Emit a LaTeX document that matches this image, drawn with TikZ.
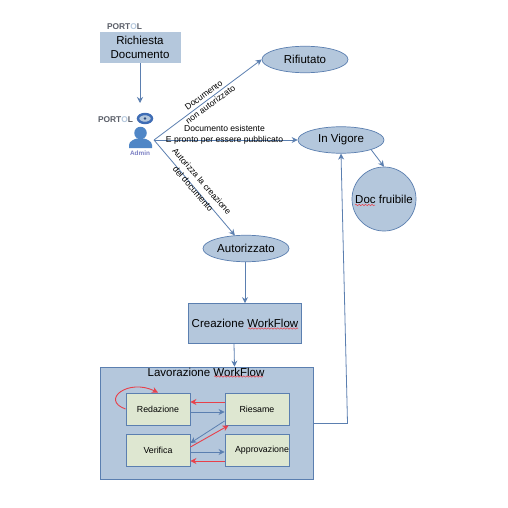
\documentclass[tikz,border=0pt]{standalone}
\usepackage{fontspec}
\setmainfont{Liberation Sans}
\usepackage{xcolor}
\usetikzlibrary{arrows.meta, calc, positioning, shapes.geometric, decorations.pathmorphing}
\definecolor{paleblue}{HTML}{B4C7DC}
\definecolor{edgeblue}{HTML}{5B7FB0}
\definecolor{paleolive}{HTML}{DEE7D1}
\definecolor{redline}{HTML}{E8404A}
\definecolor{logogray}{HTML}{5A5E68}
\definecolor{logoblue}{HTML}{3F6DB5}
\definecolor{userblue}{HTML}{4F86C6}
\definecolor{adminviolet}{HTML}{7C80C4}
\tikzset{
  boxnode/.style={draw=edgeblue, line width=0.7pt, fill=paleblue, rectangle, inner sep=0pt, align=center, font=\fontsize{11.5}{14}\selectfont},
  statenode/.style={draw=edgeblue, line width=0.7pt, fill=paleblue, ellipse, inner sep=0pt, minimum width=86pt, minimum height=26.5pt, font=\fontsize{11.5}{14}\selectfont},
  worknode/.style={draw=edgeblue, line width=0.9pt, fill=paleolive, rectangle, inner sep=0pt, minimum width=64pt, minimum height=32pt, font=\fontsize{8.8}{11}\selectfont},
  flowblue/.style={-{Stealth[length=6pt,width=6pt]}, draw=edgeblue, line width=0.8pt},
  flowred/.style={-{Stealth[length=6pt,width=6pt]}, draw=redline, line width=0.9pt},
  edgelabel/.style={align=center, inner sep=0pt, font=\fontsize{8.6}{11.5}\selectfont},
  squiggle/.style={draw=redline, line width=0.5pt, decorate, decoration={snake, amplitude=0.7pt, segment length=3.2pt}},
  logotext/.style={inner sep=0pt, text=logogray, font=\fontsize{8.4}{9}\selectfont\bfseries},
}
\begin{document}
\begin{tikzpicture}[x=1pt, y=-1pt, >=Stealth]
    \useasboundingbox (0,0) rectangle (508,508);
    \fill[white] (0,0) rectangle (508,508);

    % caselle e stati
    \node[boxnode, draw=none, minimum width=81pt, minimum height=31pt] (richiesta) at (140,47.5) {Richiesta\\Documento};
    \node[statenode] (rifiutato) at (305,59.5) {Rifiutato};
    \node[statenode] (vigore) at (341,140) {In Vigore};
    \node[statenode] (autorizzato) at (246,248.5) {Autorizzato};
    \node[draw=edgeblue, line width=0.7pt, fill=paleblue, circle, inner sep=0pt, minimum size=64pt, font=\fontsize{11.5}{14}\selectfont] (fruibile) at (384,199) {Doc fruibile};
    \node[boxnode, minimum width=113pt, minimum height=40pt] (creazione) at (245,323.5) {Creazione WorkFlow};
    \node[boxnode, minimum width=213pt, minimum height=112pt] (lavorazione) at (206.5,423) {};
    \node[inner sep=0pt, font=\fontsize{11.5}{14}\selectfont] (lavtitle) at (206,372) {Lavorazione WorkFlow};

    % fasi del workflow
    \node[worknode] (redazione) at (158,409) {Redazione};
    \node[worknode] (riesame) at (257,409) {Riesame};
    \node[worknode] (verifica) at (158,450) {Verifica};
    \node[worknode] (approvazione) at (257,450) {\hspace*{10pt}Approvazione};

    % logo e utente
    \node[logotext] (logotop) at (124.5,27) {PORT\textcolor{paleblue}{O}L};
    \node[logotext] (logomid) at (115.5,120) {PORT\textcolor{paleblue}{O}L};
    \node[ellipse, draw=logoblue, line width=2.4pt, fill=paleblue, inner sep=0pt, minimum width=14pt, minimum height=9pt] (eye) at (145,118.5) {};
    \fill[logoblue!70!black] (eye.center) circle (1.3pt);
    \node[circle, fill=userblue, inner sep=0pt, minimum size=12.5pt] (userhead) at (140.5,133) {};
    \fill[userblue] (129,148) -- (129,145) .. controls (129,141) and (135,139) .. (137,138.5) -- (144,138.5) .. controls (146,139) and (152,141) .. (152,145) -- (152,148) -- cycle;
    \node[inner sep=0pt, text=adminviolet, font=\fontsize{6.4}{7}\selectfont\bfseries] (admin) at (140,153) {Admin};

    \coordinate (hub) at (154,140);
    \coordinate (bend) at (347.5,423);
    \coordinate (eyetop) at (140,103);

    % frecce
    \draw[flowblue] (richiesta.south) -- (eyetop);
    \draw[flowblue] (hub) -- (rifiutato.west);
    \draw[flowblue] (hub) -- (vigore);
    \draw[flowblue] (hub) -- (autorizzato);
    \draw[flowblue] ([xshift=30pt,yshift=-9.5pt]vigore.center) -- (fruibile.north);
    \draw[flowblue] (autorizzato.south -| creazione.north) -- (creazione.north);
    \draw[flowblue] ([xshift=-11pt]creazione.south) -- ([xshift=28pt]lavorazione.north);
    \draw[draw=edgeblue, line width=0.8pt] (lavorazione.east |- bend) -- (bend);
    \draw[flowblue] (bend) -- (vigore.south);

    \draw[flowred] ([yshift=7pt]riesame.west) -- ([yshift=7pt]redazione.east);
    \draw[flowblue] ([yshift=-3pt]redazione.east) -- ([yshift=-3pt]riesame.west);
    \draw[flowblue] ([yshift=-12pt]riesame.west) -- ([yshift=7pt]verifica.east);
    \draw[flowred] ([yshift=3pt]verifica.east) -- ([xshift=4pt]riesame.south west);
    \draw[flowblue] ([yshift=-2pt]verifica.east) -- ([yshift=-2pt]approvazione.west);
    \draw[flowred] ([yshift=-11pt]approvazione.west) -- ([yshift=-11pt]verifica.east);
    \draw[flowred] (redazione.west) .. controls (100,400) and (128,378) .. (redazione.north);

    % etichette
    \node[edgelabel, rotate=36] (labelno) at (207,100) {Documento\\non autorizzato};
    \node[edgelabel] (labelesiste) at (224.5,135) {Documento esistente\\E pronto per essere pubblicato};
    \node[edgelabel, rotate=-49] (labelcrea) at (197.5,185) {Autorizza la creazione\\del documento};

    % sottolineature
    \draw[squiggle] (355,205) -- (375,205);
    \draw[squiggle] (248,328.5) -- (298,328.5);
    \draw[squiggle] (214,376.5) -- (263,376.5);
\end{tikzpicture}
\end{document}
